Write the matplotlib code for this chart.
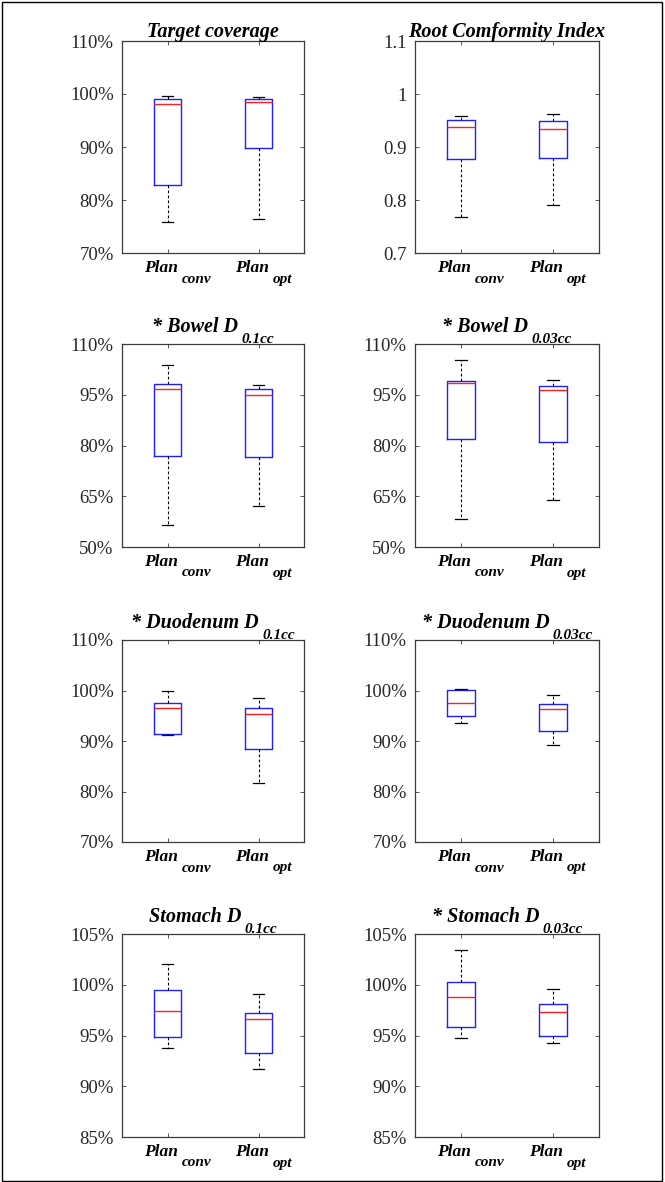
import matplotlib
matplotlib.use("Agg")
import matplotlib.pyplot as plt
from matplotlib.patches import Rectangle
from matplotlib.ticker import FixedLocator, FixedFormatter

plt.rcParams['font.family'] = ['Liberation Serif', 'DejaVu Serif']

# ---------------- data ----------------
categories = ['Plan', 'Plan']
category_subs = ['conv', 'opt']

# (main title, subscript)
titles = [
    ('Target coverage', ''),
    ('Root Comformity Index', ''),
    ('* Bowel D', '0.1cc'),
    ('* Bowel D', '0.03cc'),
    ('* Duodenum D', '0.1cc'),
    ('* Duodenum D', '0.03cc'),
    ('Stomach D', '0.1cc'),
    ('* Stomach D', '0.03cc'),
]

# five-number summaries: [whisker low, q1, median, q3, whisker high] for (conv, opt)
target_coverage = [[75.8, 82.9, 98.1, 99.0, 99.6], [76.5, 89.9, 98.4, 99.1, 99.5]]
root_ci = [[0.768, 0.877, 0.937, 0.951, 0.959], [0.791, 0.879, 0.934, 0.950, 0.963]]
bowel_01 = [[56.4, 77.0, 96.8, 98.3, 103.7], [62.0, 76.7, 94.8, 96.8, 98.0]]
bowel_003 = [[58.3, 81.9, 98.4, 99.2, 105.3], [63.9, 81.0, 96.4, 97.5, 99.3]]
duod_01 = [[91.1, 91.3, 96.6, 97.6, 99.9], [81.7, 88.5, 95.3, 96.5, 98.6]]
duod_003 = [[93.6, 94.9, 97.5, 100.1, 100.3], [89.2, 92.0, 96.4, 97.4, 99.2]]
stom_01 = [[93.8, 94.9, 97.4, 99.5, 102.0], [91.7, 93.3, 96.6, 97.2, 99.1]]
stom_003 = [[94.8, 95.8, 98.8, 100.3, 103.4], [94.3, 95.0, 97.3, 98.1, 99.6]]

panels = [target_coverage, root_ci, bowel_01, bowel_003, duod_01, duod_003, stom_01, stom_003]

ytick_sets = [
    [70, 80, 90, 100, 110],
    [0.7, 0.8, 0.9, 1.0, 1.1],
    [50, 65, 80, 95, 110],
    [50, 65, 80, 95, 110],
    [70, 80, 90, 100, 110],
    [70, 80, 90, 100, 110],
    [85, 90, 95, 100, 105],
    [85, 90, 95, 100, 105],
]
ytick_labels = [
    ['70%', '80%', '90%', '100%', '110%'],
    ['0.7', '0.8', '0.9', '1', '1.1'],
    ['50%', '65%', '80%', '95%', '110%'],
    ['50%', '65%', '80%', '95%', '110%'],
    ['70%', '80%', '90%', '100%', '110%'],
    ['70%', '80%', '90%', '100%', '110%'],
    ['85%', '90%', '95%', '100%', '105%'],
    ['85%', '90%', '95%', '100%', '105%'],
]

# ---------------- layout ----------------
W, H = 665, 1182
fig = plt.figure(figsize=(W / 100, H / 100), dpi=100)
renderer = fig.canvas.get_renderer()

col_px = [(122, 304), (415, 599)]
row_px = [(41, 253), (344, 547), (640, 842), (934, 1137)]

def add_ax(r, c):
    x0, x1 = col_px[c]
    y0, y1 = row_px[r]
    return fig.add_axes([x0 / W, 1 - y1 / H, (x1 - x0) / W, (y1 - y0) / H])

bi = dict(fontweight='bold', fontstyle='italic', color='black')
spine_col = '#3a3a3a'

for i, data in enumerate(panels):
    r, c = divmod(i, 2)
    ax = add_ax(r, c)
    stats = []
    for d in data:
        stats.append(dict(whislo=d[0], q1=d[1], med=d[2], q3=d[3], whishi=d[4], fliers=[]))
    ax.bxp(stats, positions=[1, 2], widths=0.30, capwidths=0.13, showfliers=False,
           boxprops=dict(color='#1f1fff', lw=1.0),
           medianprops=dict(color='#ff2020', lw=1.0),
           whiskerprops=dict(color='black', lw=0.8, linestyle=(0, (2.5, 2))),
           capprops=dict(color='black', lw=0.9))
    ax.set_xlim(0.5, 2.5)
    yt = ytick_sets[i]
    ax.set_ylim(yt[0], yt[-1])
    ax.yaxis.set_major_locator(FixedLocator(yt))
    ax.yaxis.set_major_formatter(FixedFormatter(ytick_labels[i]))
    ax.set_xticks([1, 2])
    ax.set_xticklabels(['', ''])
    ax.tick_params(axis='both', direction='in', length=3, width=0.6, top=True, right=True,
                   colors=spine_col)
    ax.tick_params(axis='y', labelsize=13.5, labelcolor='#262626', pad=6)
    for s in ax.spines.values():
        s.set_color(spine_col)
        s.set_linewidth(0.9)

    # x category labels with lowered subscripts
    xt = ax.get_xaxis_transform()
    for pos, lab, sub in zip([1, 2], categories, category_subs):
        tm = ax.annotate(lab, (pos, 0), xycoords=xt, xytext=(-7, -19),
                         textcoords='offset pixels', ha='center', va='baseline',
                         fontsize=12.5, **bi)
        wm = tm.get_window_extent(renderer).width
        ax.annotate(sub, (pos, 0), xycoords=xt, xytext=(-7 + wm / 2 + 4, -29.5),
                    textcoords='offset pixels', ha='left', va='baseline',
                    fontsize=11, **bi)

    # title with lowered subscript
    main, sub = titles[i]
    if sub:
        tm = ax.annotate(main, (0.5, 1), xycoords='axes fraction', xytext=(0, 12.3),
                         textcoords='offset pixels', ha='left', va='baseline',
                         fontsize=14.5, **bi)
        ts = ax.annotate(sub, (0.5, 1), xycoords='axes fraction', xytext=(0, 0.8),
                         textcoords='offset pixels', ha='left', va='baseline',
                         fontsize=11, **bi)
        wm = tm.get_window_extent(renderer).width
        ws = ts.get_window_extent(renderer).width
        gap = 3
        tot = wm + gap + ws
        tm.xyann = (-tot / 2, 12.3)
        ts.xyann = (-tot / 2 + wm + gap, 0.8)
    else:
        ax.annotate(main, (0.5, 1), xycoords='axes fraction', xytext=(0, 4.5),
                    textcoords='offset pixels', ha='center', va='baseline',
                    fontsize=14.5, **bi)

fig.patches.append(Rectangle((0.003, 0.001), 0.993, 0.997, transform=fig.transFigure,
                             fill=False, edgecolor='black', lw=1.0))

fig.savefig('out.png', dpi=100)
